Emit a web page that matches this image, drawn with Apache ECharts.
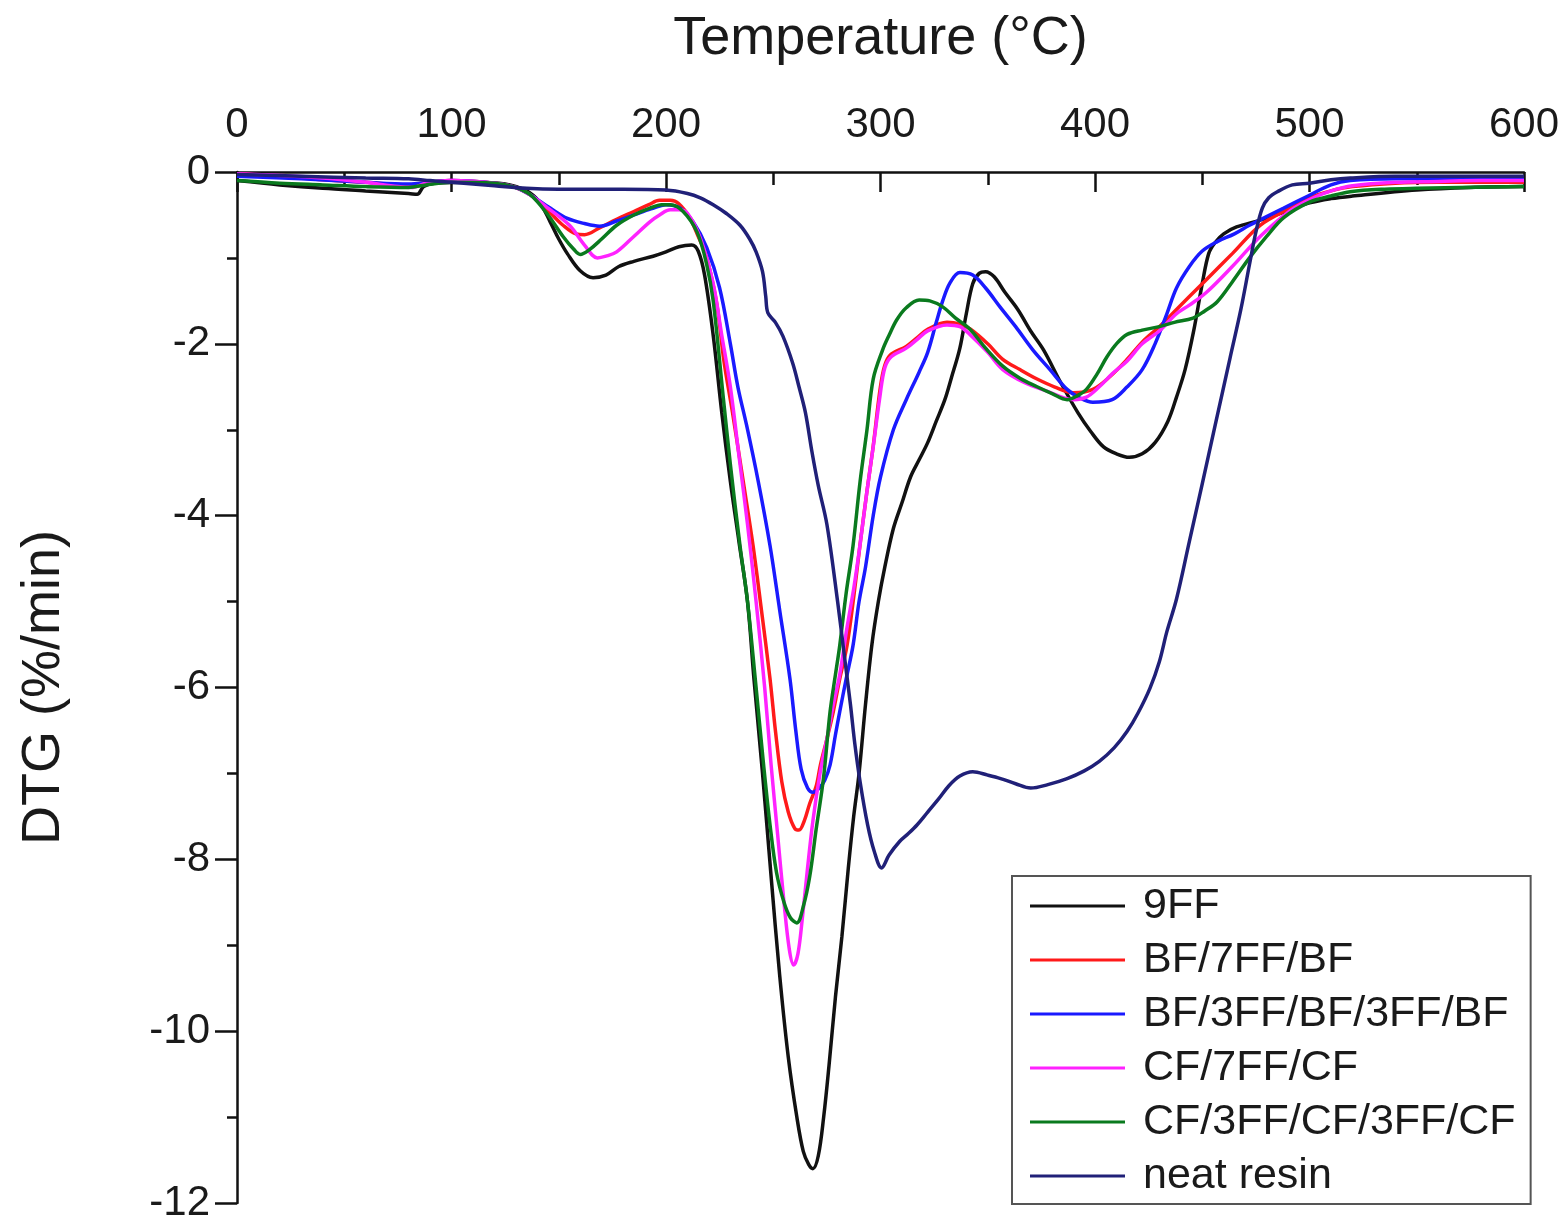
<!DOCTYPE html>
<html>
<head>
<meta charset="utf-8">
<title>DTG curves</title>
<script src="https://cdn.jsdelivr.net/npm/echarts@6/dist/echarts.min.js"></script>
<style>
  html, body { margin: 0; padding: 0; background: #ffffff; }
  #chart { width: 1568px; height: 1224px; }
</style>
</head>
<body>
<div id="chart"></div>
<script>
// DTG (%/min) versus temperature (°C), one [T, DTG] list per laminate
const seriesNames = ['9FF', 'BF/7FF/BF', 'BF/3FF/BF/3FF/BF', 'CF/7FF/CF', 'CF/3FF/CF/3FF/CF', 'neat resin'];
const xTicks = [0, 100, 200, 300, 400, 500, 600];
const yTicks = [0, -2, -4, -6, -8, -10, -12];

const dtg9FF = [
  [0,-0.1],[20,-0.15],[40,-0.19],[60,-0.22],[80,-0.25],[84,-0.26],[87,-0.17],[92,-0.13],[110,-0.12],[125,-0.14],
  [135,-0.22],[141,-0.35],[146,-0.58],[150,-0.78],[154,-0.95],[160,-1.15],[166,-1.23],[172,-1.2],[178,-1.1],
  [185,-1.04],[194,-0.98],[200,-0.93],[206,-0.87],[212,-0.85],[215,-0.92],[218,-1.2],[222,-1.9],[226,-2.8],
  [230,-3.6],[234,-4.3],[238,-5.0],[241,-5.9],[245,-7.0],[249,-8.2],[253,-9.35],[257,-10.3],[261,-11.0],
  [264,-11.4],[266.5,-11.55],[268.5,-11.6],[271,-11.45],[273.5,-11.0],[276,-10.4],[279,-9.6],[282,-8.9],
  [285,-8.1],[287.5,-7.5],[290,-7.0],[293,-6.2],[296,-5.5],[299,-5.0],[302,-4.6],[306,-4.15],[310,-3.85],
  [314,-3.55],[318,-3.35],[322,-3.15],[326,-2.9],[330,-2.65],[333,-2.4],[337,-2.05],[340,-1.65],[343,-1.3],
  [346,-1.18],[349,-1.16],[353,-1.22],[358,-1.4],[364,-1.6],[370,-1.85],[376,-2.07],[384,-2.45],[392,-2.8],
  [398,-3.02],[404,-3.2],[410,-3.28],[416,-3.32],[422,-3.28],[428,-3.15],[434,-2.9],[438,-2.62],[442,-2.3],
  [446,-1.85],[450,-1.3],[453,-0.95],[456,-0.82],[460,-0.72],[466,-0.64],[477,-0.56],[490,-0.45],[500,-0.36],
  [510,-0.31],[520,-0.28],[550,-0.21],[575,-0.18],[600,-0.17]
];

const dtgBF7FF = [
  [0,-0.02],[20,-0.05],[40,-0.09],[60,-0.12],[80,-0.15],[90,-0.12],[100,-0.1],[120,-0.13],[130,-0.18],
  [137,-0.27],[145,-0.45],[152,-0.62],[158,-0.72],[162,-0.73],[169,-0.65],[177,-0.55],[185,-0.46],[192,-0.38],
  [197,-0.33],[202,-0.33],[206,-0.37],[211,-0.53],[215,-0.75],[219,-1.0],[223.7,-1.54],[227,-2.2],[231,-2.8],
  [236,-3.6],[240.6,-4.35],[244.5,-5.1],[248.5,-5.9],[251,-6.5],[254,-7.1],[257,-7.45],[260,-7.64],[262,-7.66],
  [264.5,-7.55],[267,-7.35],[270,-7.15],[272,-6.9],[275,-6.6],[278,-6.28],[281,-5.9],[284.4,-5.51],[287.5,-4.95],
  [290.4,-4.35],[293.5,-3.75],[296.6,-3.19],[299.8,-2.53],[302,-2.25],[305,-2.12],[312,-2.03],[317,-1.93],
  [322,-1.83],[331,-1.75],[337,-1.77],[342,-1.83],[350,-2.0],[357,-2.18],[365,-2.3],[373,-2.41],[381,-2.5],
  [390,-2.57],[399,-2.53],[407,-2.38],[415,-2.18],[422,-1.98],[430,-1.8],[438,-1.6],[444,-1.45],[452,-1.25],
  [464,-0.95],[477,-0.62],[491,-0.42],[500,-0.3],[510,-0.22],[520,-0.17],[540,-0.13],[560,-0.12],[580,-0.12],[600,-0.12]
];

const dtgBF3FF = [
  [0,-0.05],[30,-0.08],[60,-0.12],[80,-0.14],[90,-0.12],[100,-0.1],[120,-0.13],[130,-0.18],[137,-0.27],
  [146,-0.42],[154,-0.54],[162,-0.6],[169,-0.63],[177,-0.57],[185,-0.5],[193,-0.43],[200,-0.38],[206.5,-0.42],
  [212.6,-0.58],[219,-0.88],[225,-1.35],[230,-2.0],[233.5,-2.5],[237.6,-2.95],[243,-3.6],[248.5,-4.35],
  [253,-5.1],[257.8,-5.9],[260.5,-6.5],[263,-6.95],[266,-7.17],[268.5,-7.22],[271.5,-7.17],[274,-7.08],
  [276.5,-6.9],[279,-6.55],[281,-6.28],[284,-5.9],[287.2,-5.51],[290,-5.0],[293,-4.6],[296.6,-4.0],[300,-3.55],
  [306,-3.0],[312,-2.65],[318,-2.33],[322,-2.1],[326,-1.75],[329,-1.5],[332.4,-1.29],[337,-1.17],[343,-1.2],
  [349,-1.35],[355.7,-1.57],[363,-1.8],[371,-2.07],[379,-2.3],[387,-2.53],[393,-2.63],[399,-2.68],[408,-2.65],
  [415,-2.5],[422,-2.3],[428,-2.0],[433.5,-1.65],[438,-1.35],[444,-1.1],[450,-0.92],[457,-0.81],[465,-0.72],
  [472,-0.62],[480,-0.52],[488,-0.42],[500,-0.27],[510,-0.15],[519,-0.1],[540,-0.08],[570,-0.08],[600,-0.08]
];

const dtgCF7FF = [
  [0,-0.02],[20,-0.04],[40,-0.07],[60,-0.12],[75,-0.17],[82,-0.18],[88,-0.13],[100,-0.1],[120,-0.13],[130,-0.18],
  [137,-0.27],[145,-0.42],[155,-0.62],[162,-0.85],[168,-1.0],[172,-0.98],[177,-0.93],[185,-0.75],[192.5,-0.58],
  [197,-0.5],[202,-0.44],[206,-0.44],[210,-0.48],[216,-0.77],[222,-1.3],[226,-1.9],[230,-2.5],[234,-3.3],
  [238,-4.1],[242,-5.0],[246,-6.0],[249,-6.9],[252,-7.7],[255,-8.5],[257.5,-9.05],[259.5,-9.23],[261.5,-9.1],
  [263.5,-8.7],[266,-8.1],[268.5,-7.55],[271.8,-7.0],[275,-6.6],[278,-6.2],[281,-5.85],[284.4,-5.3],[287.5,-4.85],
  [290.4,-4.35],[293.5,-3.75],[296.6,-3.2],[299.8,-2.6],[302,-2.28],[305,-2.15],[312,-2.05],[317,-1.95],
  [322,-1.85],[331,-1.78],[337,-1.8],[342,-1.9],[350,-2.1],[357,-2.3],[367,-2.45],[377.6,-2.55],[390,-2.65],
  [396,-2.62],[402,-2.5],[408,-2.35],[415,-2.2],[422,-2.0],[430,-1.85],[438,-1.65],[444,-1.55],[452,-1.4],
  [464,-1.1],[477,-0.75],[491,-0.45],[500,-0.32],[510,-0.22],[520,-0.16],[540,-0.12],[560,-0.11],[580,-0.1],[600,-0.1]
];

const dtgCF3FF = [
  [0,-0.1],[20,-0.13],[40,-0.15],[60,-0.17],[80,-0.18],[88,-0.15],[100,-0.12],[120,-0.13],[130,-0.18],
  [137,-0.27],[145,-0.5],[152,-0.75],[157,-0.9],[160,-0.96],[164.5,-0.9],[170,-0.78],[177,-0.62],[185,-0.5],
  [192.5,-0.42],[198,-0.38],[202,-0.38],[208,-0.46],[214.5,-0.7],[219,-1.08],[222,-1.5],[226.6,-2.6],
  [230,-3.4],[234.5,-4.35],[238,-5.0],[242,-6.0],[245.5,-6.9],[248.5,-7.6],[251.5,-8.15],[255,-8.5],
  [258,-8.68],[261,-8.74],[264,-8.55],[267,-8.2],[270,-7.65],[273.4,-7.06],[276.5,-6.28],[279,-5.85],
  [281,-5.51],[284,-4.9],[287.2,-4.35],[290.5,-3.6],[293.7,-3.0],[296.6,-2.41],[301,-2.07],[304,-1.9],
  [307.6,-1.72],[312,-1.58],[318,-1.49],[323,-1.5],[329,-1.57],[335,-1.7],[341.7,-1.83],[349,-2.05],
  [357,-2.26],[365,-2.4],[373,-2.5],[380,-2.58],[387,-2.65],[392,-2.6],[396,-2.53],[401,-2.35],[405.6,-2.15],
  [410,-2.0],[415,-1.89],[422,-1.84],[430,-1.8],[437,-1.75],[445.7,-1.7],[451,-1.62],[457,-1.51],[464,-1.28],
  [472,-1.0],[480,-0.75],[488,-0.53],[500,-0.35],[510,-0.28],[519,-0.23],[535,-0.2],[550,-0.19],[600,-0.17]
];

const dtgNeatResin = [
  [0,-0.03],[30,-0.05],[60,-0.07],[80,-0.08],[90,-0.1],[100,-0.12],[120,-0.16],[135,-0.19],[150,-0.2],
  [180,-0.2],[200,-0.21],[210,-0.25],[216,-0.3],[222,-0.38],[228,-0.48],[234.5,-0.62],[239,-0.78],[242,-0.93],
  [245,-1.16],[246.5,-1.45],[247.5,-1.64],[251,-1.75],[254.5,-1.91],[259,-2.22],[262,-2.5],[265,-2.8],
  [268,-3.25],[271,-3.65],[275,-4.1],[280,-5.0],[283,-5.6],[286,-6.2],[288,-6.65],[290.5,-7.1],[294,-7.6],
  [297,-7.9],[300.5,-8.1],[304,-7.95],[309,-7.79],[313,-7.7],[317,-7.6],[322,-7.45],[327,-7.3],[332,-7.14],
  [337,-7.03],[343,-6.98],[350,-7.02],[356,-7.06],[363,-7.12],[370,-7.17],[378,-7.13],[387,-7.06],[395,-6.97],
  [402,-6.86],[409,-6.7],[415,-6.51],[420,-6.3],[425.6,-6.01],[430,-5.7],[433.5,-5.35],[438,-4.97],[444,-4.3],
  [450,-3.63],[456,-2.95],[463,-2.16],[468,-1.6],[472,-1.08],[475,-0.7],[478,-0.42],[481,-0.3],[485,-0.23],
  [492,-0.15],[500,-0.13],[510,-0.09],[519,-0.07],[540,-0.05],[570,-0.05],[600,-0.05]
];

const seriesData = [dtg9FF, dtgBF7FF, dtgBF3FF, dtgCF7FF, dtgCF3FF, dtgNeatResin];
const seriesColors = ['#111111', '#ff1a1a', '#1a1aff', '#ff22ff', '#0a7a1e', '#202078'];

const FONT = '"Liberation Sans", Arial, Helvetica, sans-serif';

const chart = echarts.init(document.getElementById('chart'), null, { renderer: 'canvas' });

chart.setOption({
  backgroundColor: '#ffffff',
  animation: false,
  grid: { left: 237, top: 172, width: 1287, height: 1034, containLabel: false },
  xAxis: {
    type: 'value',
    position: 'top',
    min: xTicks[0],
    max: xTicks[xTicks.length - 1],
    interval: 100,
    name: 'Temperature (°C)',
    nameLocation: 'middle',
    nameGap: 106,
    nameTextStyle: { fontFamily: FONT, fontSize: 54, color: '#1a1a1a' },
    axisLine: { show: true, onZero: false, lineStyle: { color: '#111', width: 2.5 } },
    axisTick: { show: true, inside: true, length: 20, lineStyle: { color: '#111', width: 2.5 } },
    minorTick: { show: true, splitNumber: 2, length: 13, lineStyle: { color: '#111', width: 2.5 } },
    axisLabel: { fontFamily: FONT, fontSize: 42, color: '#1a1a1a', margin: 26 },
    splitLine: { show: false }
  },
  yAxis: {
    type: 'value',
    position: 'left',
    min: yTicks[yTicks.length - 1],
    max: yTicks[0],
    interval: 2,
    name: 'DTG (%/min)',
    nameLocation: 'middle',
    nameRotate: 90,
    nameGap: 166,
    nameTextStyle: { fontFamily: FONT, fontSize: 54, color: '#1a1a1a' },
    axisLine: { show: true, onZero: false, lineStyle: { color: '#111', width: 2.5 } },
    axisTick: { show: true, inside: false, length: 22, lineStyle: { color: '#111', width: 2.5 } },
    minorTick: { show: true, splitNumber: 2, length: 10, lineStyle: { color: '#111', width: 2.5 } },
    axisLabel: { fontFamily: FONT, fontSize: 42, color: '#1a1a1a', margin: 27 },
    splitLine: { show: false }
  },
  legend: {
    orient: 'vertical',
    left: 1012,
    top: 876,
    padding: [8, 15, 6, 18],
    itemGap: 10,
    itemWidth: 95,
    itemHeight: 3,
    icon: 'rect',
    backgroundColor: '#ffffff',
    borderColor: '#555555',
    borderWidth: 2,
    borderRadius: 0,
    data: seriesNames,
    textStyle: { fontFamily: FONT, fontSize: 43, color: '#1a1a1a', lineHeight: 44, padding: [0, 0, 0, 13] }
  },
  series: seriesNames.map((name, i) => ({
    name: name,
    type: 'line',
    data: seriesData[i],
    smooth: 0.35,
    symbol: 'none',
    clip: true,
    color: seriesColors[i],
    lineStyle: { color: seriesColors[i], width: 3.5 },
    z: 2 + i
  }))
});
</script>
</body>
</html>
